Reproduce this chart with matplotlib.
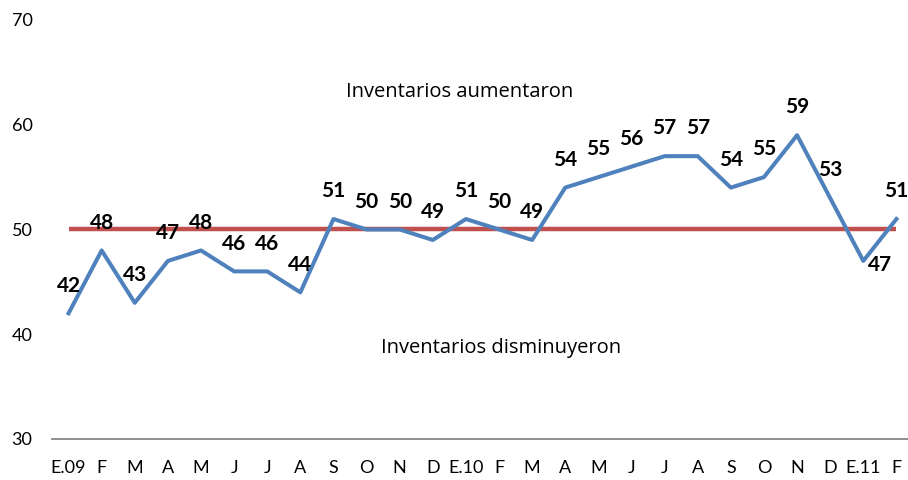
import matplotlib
matplotlib.use("Agg")
import matplotlib.pyplot as plt

meses = ["E.09", "F", "M", "A", "M", "J", "J", "A", "S", "O", "N", "D",
         "E.10", "F", "M", "A", "M", "J", "J", "A", "S", "O", "N", "D",
         "E.11", "F"]
indice = [42, 48, 43, 47, 48, 46, 46, 44, 51, 50, 50, 49,
          51, 50, 49, 54, 55, 56, 57, 57, 54, 55, 59, 53,
          47, 51]
umbral = [50] * len(meses)

plt.rcParams["font.family"] = ["Lato", "DejaVu Sans"]

fig = plt.figure(figsize=(9.08, 4.8), dpi=100)
ax = fig.add_axes([52 / 908, 41 / 480, 1 - 52 / 908, 419 / 480])

x = list(range(len(meses)))
ax.plot(x, umbral, color="#C0504D", lw=3.2, solid_capstyle="butt", zorder=2)
ax.plot(x, indice, color="#4F81BD", lw=2.9, zorder=3)

# etiquetas de datos
for i, v in enumerate(indice):
    if i == 24:
        off = (12, -3)
    else:
        off = (0, 20)
    ax.annotate(str(v), (i, v), xytext=off, textcoords="offset points",
                ha="center", va="center", fontsize=15, fontweight="bold",
                color="black", zorder=4)

ax.text(11.8, 63.1, "Inventarios aumentaron", ha="center", va="center",
        fontsize=14.5, family="Open Sans")
ax.text(13.05, 38.7, "Inventarios disminuyeron", ha="center", va="center",
        fontsize=14.5, family="Open Sans")

ax.set_xlim(-0.5, 25.35)
ax.set_ylim(30, 70)
ax.set_yticks([30, 40, 50, 60, 70])
ax.set_xticks(x)
ax.set_xticklabels(meses)

for s in ["top", "right", "left"]:
    ax.spines[s].set_visible(False)
ax.spines["bottom"].set_color("#868686")
ax.spines["bottom"].set_linewidth(1.3)
ax.tick_params(axis="both", length=0, labelsize=13)
ax.tick_params(axis="x", pad=15)
ax.tick_params(axis="y", pad=14)

fig.savefig("out.png", dpi=100)
